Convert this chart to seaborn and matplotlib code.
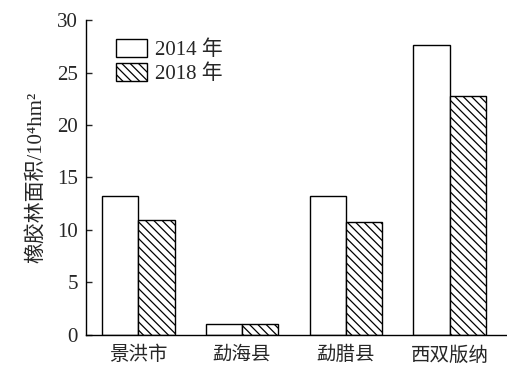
import pandas as pd
import matplotlib.pyplot as plt
import seaborn as sns

regions = ["景洪市", "勐海县", "勐腊县", "西双版纳"]
area_2014 = [13.2, 1.05, 13.25, 27.6]
area_2018 = [10.95, 1.0, 10.75, 22.8]
years = ["2014 年", "2018 年"]

sns.set_style("ticks")
plt.rcParams["font.family"] = ["Liberation Serif", "Noto Sans CJK SC"]
plt.rcParams["hatch.linewidth"] = 0.9

data = pd.DataFrame({
    "region": regions * 2,
    "area": area_2014 + area_2018,
    "year": [years[0]] * 4 + [years[1]] * 4,
})

fig = plt.figure(figsize=(5.07, 3.78), dpi=100)
ax = fig.add_axes([0.170, 0.114, 0.83, 0.833])
sns.barplot(data=data, x="region", y="area", hue="year", palette=["white", "white"],
            width=0.7, edgecolor="black", linewidth=1, saturation=1, ax=ax)

for bar in ax.containers[1]:
    bar.set_hatch("\\\\\\\\")

ax.set_ylim(0, 30)
ax.set_xlim(-0.5, 3.55)
ax.set_yticks([0, 5, 10, 15, 20, 25, 30])
ax.tick_params(axis="y", direction="in", length=4, labelsize=15, width=1, pad=6)
ax.tick_params(axis="x", length=0, labelsize=14, pad=8)
ax.set_xlabel("")
ax.set_ylabel("橡胶林面积/10⁴hm²", fontsize=15, labelpad=8)
for s in ["top", "right"]:
    ax.spines[s].set_visible(False)
for s in ["left", "bottom"]:
    ax.spines[s].set_linewidth(1)
    ax.spines[s].set_color("black")

handles, labels = ax.get_legend_handles_labels()
handles[1].set_hatch("\\\\\\\\")
ax.legend(handles, labels, loc="upper left", bbox_to_anchor=(0.035, 0.985), frameon=False,
          fontsize=15, handlelength=1.5, handleheight=0.9, handletextpad=0.4,
          labelspacing=0.15, borderaxespad=0.3)

fig.savefig("out.png", dpi=100)
